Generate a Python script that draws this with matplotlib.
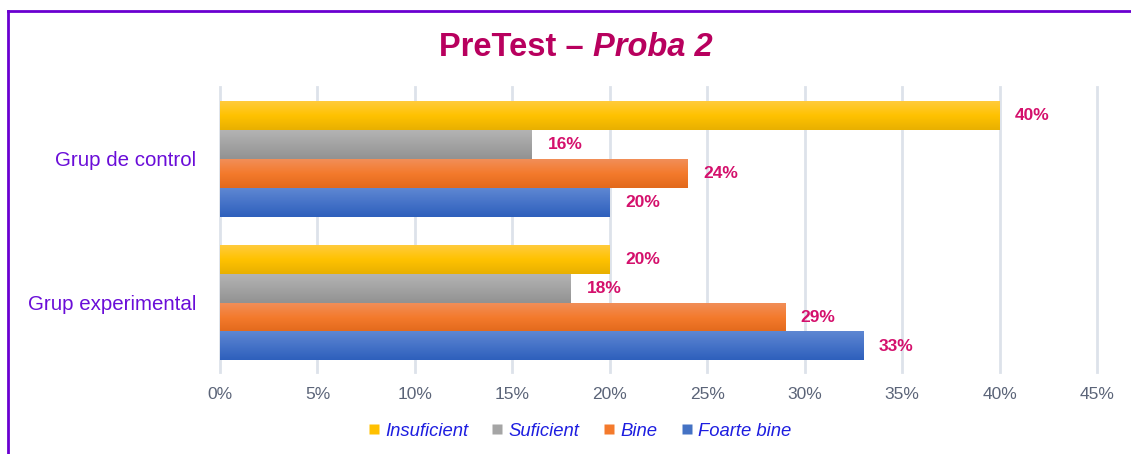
import matplotlib
matplotlib.use("Agg")
import matplotlib.pyplot as plt
import numpy as np
from matplotlib.lines import Line2D
from matplotlib.colors import LinearSegmentedColormap

plt.rcParams['font.family'] = ['Liberation Sans', 'DejaVu Sans']

groups = ["Grup de control", "Grup experimental"]
series = ["Insuficient", "Suficient", "Bine", "Foarte bine"]
values = {
    "Insuficient": [40, 20],
    "Suficient": [16, 18],
    "Bine": [24, 29],
    "Foarte bine": [20, 33],
}
xticks = [0, 5, 10, 15, 20, 25, 30, 35, 40, 45]

# gradient top, middle, bottom for each series
grads = {
    "Insuficient": ["#FFCB3C", "#FFC200", "#E8B000"],
    "Suficient": ["#B3B3B3", "#A3A3A3", "#929292"],
    "Bine": ["#F18E58", "#F47A2C", "#E2691C"],
    "Foarte bine": ["#5E87D2", "#4673C8", "#2E60BC"],
}
flat = {"Insuficient": "#FFC000", "Suficient": "#A5A5A5",
        "Bine": "#F47A2C", "Foarte bine": "#4472C4"}

fig = plt.figure(figsize=(11.31, 4.54), dpi=100)
ax = fig.add_axes([0.1945, 0.1806, 0.7755, 0.6278])

h = 0.2
y0 = np.arange(len(groups))
for i, s in enumerate(series):
    ys = y0 - 0.3 + i * h
    bars = ax.barh(ys, values[s], height=h, facecolor="none", edgecolor="none", zorder=3)
    cmap = LinearSegmentedColormap.from_list(s, grads[s])
    for b, v in zip(bars, values[s]):
        x, y = b.get_x(), b.get_y()
        w, hh = b.get_width(), b.get_height()
        grad = np.linspace(0, 1, 64).reshape(-1, 1)
        ax.imshow(grad, cmap=cmap, aspect="auto", extent=[x, x + w, y + hh, y],
                  zorder=3, interpolation="bicubic")
        ax.text(v + 0.8, y + hh / 2, f"{v}%", va="center", ha="left",
                fontsize=12.5, fontweight="bold", color="#D4106C", zorder=4)

ax.set_xlim(0, 45)
ax.set_ylim(1.48, -0.5)
ax.set_xticks(xticks)
ax.set_xticklabels([f"{t}%" for t in xticks], fontsize=12.5, color="#5B6478")
ax.set_yticks(y0)
ax.set_yticklabels(groups, fontsize=14.8, color="#6A0DD8")
ax.tick_params(axis="x", length=0, pad=11)
ax.tick_params(axis="y", length=0, pad=17)
ax.grid(axis="x", color="#DDE2EA", linewidth=2, zorder=0)
for gl in ax.get_xgridlines():
    gl.set_clip_on(False)
ax.set_axisbelow(True)
for sp in ax.spines.values():
    sp.set_visible(False)

fig.text(0.524, 0.895, "PreTest – ", ha="right", va="center", fontsize=23.5,
         fontweight="bold", color="#B8005E")
fig.text(0.524, 0.895, "Proba 2", ha="left", va="center", fontsize=23.5,
         fontweight="bold", fontstyle="italic", color="#B8005E")

handles = [Line2D([0], [0], marker="s", linestyle="none", markersize=7.5,
                  markerfacecolor=flat[s], markeredgecolor="none") for s in series]
leg = fig.legend(handles, series, loc="center", bbox_to_anchor=(0.51, 0.05), ncol=4,
                 frameon=False, handletextpad=0.0, columnspacing=1.0, handlelength=1.2,
                 prop={"size": 13.3, "style": "italic"})
for t in leg.get_texts():
    t.set_color("#1E1EE0")

# frame lines at left and top
fig.add_artist(Line2D([0.0075, 0.0075], [0, 0.975], transform=fig.transFigure,
                      color="#6A00D0", linewidth=2))
fig.add_artist(Line2D([0.0075, 1.0], [0.975, 0.975], transform=fig.transFigure,
                      color="#6A00D0", linewidth=2))

fig.savefig("out.png", dpi=100)
